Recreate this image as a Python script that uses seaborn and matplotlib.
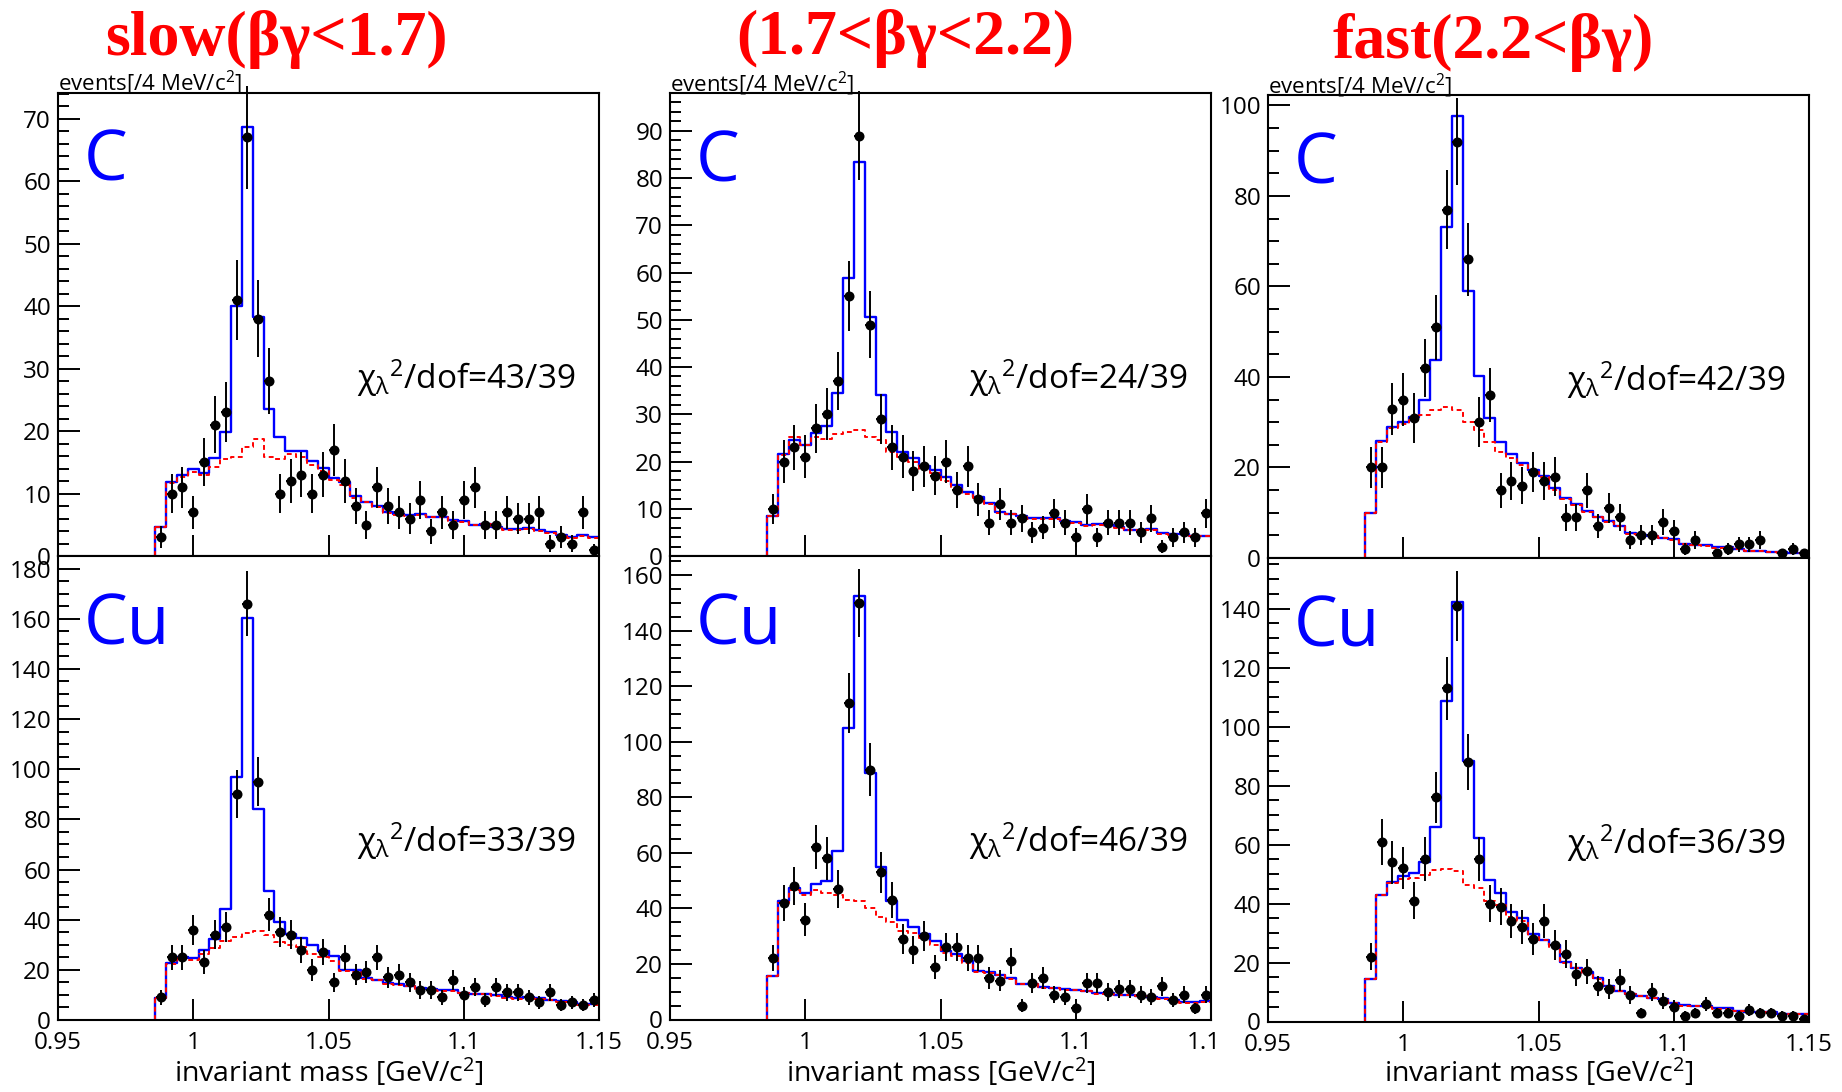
import numpy as np
import matplotlib
matplotlib.use("Agg")
import matplotlib.pyplot as plt
from matplotlib.patches import Rectangle
from matplotlib.ticker import MultipleLocator, FixedLocator
import seaborn as sns

# ---------------------------------------------------------------- binning
bin_start = 0.986          # GeV/c^2, lower edge of first bin
bin_width = 0.004          # 4 MeV/c^2 bins
n_bins = 41
edges = bin_start + bin_width * np.arange(n_bins + 1)
centers = edges[:-1] + bin_width / 2

x_ticks = [0.95, 1.0, 1.05, 1.1, 1.15]
x_tick_labels = ["0.95", "1", "1.05", "1.1", "1.15"]

col_titles = ["slow(βγ<1.7)", "(1.7<βγ<2.2)", "fast(2.2<βγ)"]
targets = ["C", "Cu"]

# ---------------------------------------------------------------- slow, C
c_slow_data = [3, 10, 11, 7, 15, 21, 23, 41, 67, 38, 28, 10, 12, 13, 10, 13, 17, 12, 8, 5, 11,
               8, 7, 6, 9, 4, 7, 5, 9, 11, 5, 5, 7, 6, 6, 7, 2, 3, 2, 7, 1]
c_slow_fit = [4.7, 11.9, 12.9, 14.0, 13.3, 15.7, 19.9, 40.0, 68.6, 38.3, 23.5, 19.0, 16.8, 16.8,
              15.2, 14.1, 12.5, 11.9, 9.6, 8.7, 8.0, 7.0, 6.7, 6.5, 6.7, 6.3, 6.3, 5.7, 5.6, 5.0,
              5.2, 4.7, 4.3, 4.3, 4.5, 4.1, 3.8, 3.3, 3.0, 3.3, 3.0]
c_slow_bkg = [4.7, 11.7, 12.7, 13.4, 12.9, 14.2, 15.5, 15.8, 17.5, 18.7, 15.9, 15.6, 16.4, 15.8,
              14.5, 13.6, 12.2, 11.4, 9.3, 8.6, 7.9, 6.9, 6.6, 6.4, 6.6, 6.2, 6.2, 5.6, 5.5, 4.9,
              5.1, 4.6, 4.2, 4.2, 4.4, 4.0, 3.7, 3.2, 2.9, 3.2, 2.9]

# ---------------------------------------------------------------- slow, Cu
cu_slow_data = [9, 25, 25, 36, 23, 34, 37, 90, 166, 95, 42, 35, 34, 28, 20, 27, 15, 25, 18, 19,
                25, 17, 18, 15, 12, 12, 9, 16, 10, 13, 8, 13, 11, 11, 9, 7, 11, 6, 7, 6, 8]
cu_slow_fit = [8.8, 22.9, 25.3, 24.6, 28.1, 32.4, 44.2, 96.9, 160.1, 84.3, 51.6, 39.0, 34.4, 32.7,
               29.9, 27.4, 25.4, 20.1, 19.8, 16.6, 16.1, 14.7, 14.2, 13.7, 12.8, 12.3, 11.9, 11.9,
               10.9, 10.5, 10.5, 10.0, 9.1, 8.8, 9.1, 8.6, 8.1, 7.4, 7.2, 6.3, 6.3]
cu_slow_bkg = [8.8, 22.5, 24.8, 24.0, 26.5, 28.6, 31.5, 33.0, 34.5, 35.5, 34.0, 31.0, 30.0, 29.0,
               26.5, 25.3, 23.5, 19.5, 19.3, 16.3, 15.8, 14.4, 13.9, 13.4, 12.5, 12.0, 11.6, 11.6,
               10.6, 10.2, 10.2, 9.7, 8.8, 8.5, 8.8, 8.3, 7.8, 7.1, 6.9, 6.0, 6.0]

# ---------------------------------------------------------------- mid, C
c_mid_data = [10, 20, 23, 21, 27, 30, 37, 55, 89, 49, 29, 23, 21, 18, 19, 17, 20, 14, 19, 12, 7,
              11, 7, 8, 5, 6, 9, 7, 4, 10, 4, 7, 7, 7, 5, 8, 2, 4, 5, 4, 9]
c_mid_fit = [8.5, 21.5, 24.5, 23.5, 26.0, 27.5, 34.5, 58.8, 83.4, 50.6, 34.0, 26.3, 22.0, 20.7,
             19.1, 18.2, 16.7, 15.0, 13.5, 12.5, 11.2, 9.3, 8.9, 8.4, 8.0, 8.0, 8.0, 7.4, 7.1, 6.5,
             6.7, 6.5, 6.1, 5.5, 5.5, 5.7, 4.8, 4.6, 4.6, 4.3, 4.3]
c_mid_bkg = [8.5, 21.3, 25.2, 23.4, 25.2, 24.8, 25.8, 26.3, 26.6, 25.2, 24.5, 22.0, 21.0, 19.8,
             18.5, 17.5, 15.8, 14.7, 13.2, 12.3, 11.0, 9.2, 8.8, 8.3, 7.9, 7.9, 7.9, 7.3, 7.0, 6.4,
             6.6, 6.4, 6.0, 5.4, 5.4, 5.6, 4.7, 4.5, 4.5, 4.2, 4.2]

# ---------------------------------------------------------------- mid, Cu
cu_mid_data = [22, 42, 48, 36, 62, 58, 47, 114, 150, 90, 53, 43, 29, 25, 30, 19, 26, 26, 22, 22,
               15, 14, 21, 5, 13, 15, 9, 8, 4, 13, 13, 10, 11, 11, 9, 8, 12, 7, 9, 4, 9]
cu_mid_fit = [15.8, 42.5, 47.2, 45.6, 48.7, 49.7, 60.5, 104.8, 152.4, 88.7, 54.8, 42.5, 35.8, 33.2,
              30.7, 28.4, 24.7, 23.7, 20.9, 17.4, 17.0, 16.1, 14.8, 12.9, 12.9, 11.7, 11.4, 11.0,
              10.8, 10.4, 9.5, 9.5, 8.9, 8.9, 8.5, 8.1, 7.6, 7.2, 6.3, 6.3, 6.6]
cu_mid_bkg = [15.8, 42.0, 46.5, 45.0, 46.5, 45.5, 45.0, 43.0, 42.5, 40.0, 37.0, 35.0, 32.0, 31.0,
              29.5, 27.0, 24.0, 23.0, 20.5, 17.2, 16.8, 15.9, 14.6, 12.7, 12.7, 11.5, 11.2, 10.8,
              10.6, 10.2, 9.3, 9.3, 8.7, 8.7, 8.3, 7.9, 7.4, 7.0, 6.1, 6.1, 6.4]

# ---------------------------------------------------------------- fast, C
c_fast_data = [20, 20, 33, 35, 31, 42, 51, 77, 92, 66, 30, 36, 15, 17, 16, 19, 17, 18, 9, 9, 15,
               7, 11, 9, 4, 5, 5, 8, 6, 2, 4, 0, 1, 2, 3, 3, 4, 0, 1, 2, 1]
c_fast_fit = [9.9, 25.9, 29.0, 30.1, 31.2, 35.0, 43.7, 73.2, 97.7, 58.9, 40.3, 30.9, 25.6, 22.9,
              21.1, 19.5, 18.2, 15.4, 13.2, 11.9, 10.4, 9.1, 8.1, 7.1, 5.5, 5.1, 4.9, 4.5, 4.1, 3.2,
              2.9, 2.8, 2.4, 2.4, 2.0, 1.6, 1.6, 1.4, 1.3, 1.2, 1.2]
c_fast_bkg = [9.9, 25.7, 28.8, 29.7, 30.5, 31.7, 32.8, 33.3, 32.7, 30.0, 28.3, 25.7, 23.5, 22.0,
              20.5, 19.0, 17.8, 15.0, 13.0, 11.7, 10.2, 9.0, 8.0, 7.0, 5.4, 5.0, 4.8, 4.4, 4.0, 3.1,
              2.8, 2.7, 2.3, 2.3, 1.9, 1.5, 1.5, 1.3, 1.2, 1.1, 1.1]

# ---------------------------------------------------------------- fast, Cu
cu_fast_data = [22, 61, 54, 52, 41, 55, 76, 113, 141, 88, 55, 40, 39, 34, 32, 28, 34, 26, 23, 16,
                17, 12, 11, 14, 9, 3, 10, 7, 5, 2, 3, 6, 3, 3, 2, 4, 3, 3, 2, 2, 1]
cu_fast_fit = [14.3, 43.0, 47.3, 49.3, 50.5, 54.1, 66.0, 108.6, 142.4, 88.3, 62.1, 48.1, 43.6, 37.0,
               35.0, 29.8, 27.8, 25.8, 20.3, 18.3, 16.7, 14.7, 11.9, 10.5, 9.3, 8.7, 8.1, 7.5, 6.3,
               5.5, 5.4, 5.1, 4.5, 4.5, 3.6, 3.3, 3.3, 3.1, 2.7, 2.6, 2.7]
cu_fast_bkg = [14.3, 43.0, 47.0, 48.2, 48.8, 49.8, 51.5, 51.8, 51.0, 46.3, 45.3, 41.0, 39.5, 35.5,
               34.0, 28.8, 27.5, 25.3, 20.0, 18.0, 16.5, 14.5, 11.8, 10.4, 9.2, 8.6, 8.0, 7.4, 6.2,
               5.4, 5.3, 5.0, 4.4, 4.4, 3.5, 3.2, 3.2, 3.0, 2.6, 2.5, 2.6]

chi2_labels = [["43/39", "33/39"], ["24/39", "46/39"], ["42/39", "36/39"]]

panel_data = [[(c_slow_data, c_slow_fit, c_slow_bkg), (cu_slow_data, cu_slow_fit, cu_slow_bkg)],
              [(c_mid_data, c_mid_fit, c_mid_bkg), (cu_mid_data, cu_mid_fit, cu_mid_bkg)],
              [(c_fast_data, c_fast_fit, c_fast_bkg), (cu_fast_data, cu_fast_fit, cu_fast_bkg)]]

# y-axis ranges and tick spacing (max, major, minor)
y_axes = [[(74.1, 10, 2), (185.0, 20, 5)],
          [(97.9, 10, 2), (166.9, 20, 5)],
          [(102.2, 20, 5), (157.2, 20, 5)]]

# ---------------------------------------------------------------- style
sns.set_theme(style="ticks")
plt.rcParams["font.family"] = ["Open Sans", "DejaVu Sans"]
plt.rcParams["mathtext.fontset"] = "custom"
plt.rcParams["mathtext.rm"] = "Open Sans"
plt.rcParams["mathtext.it"] = "Open Sans:italic"
plt.rcParams["mathtext.bf"] = "Open Sans:bold"

W, H = 1842, 1092
fig = plt.figure(figsize=(W / 100, H / 100), dpi=100)
fig.patch.set_facecolor("white")

AX_W = 541
# (left, top of upper pad, split, bottom of lower pad) in pixels
col_geom = [(58, 93, 556, 1020), (670, 93.5, 556, 1019.5), (1268, 95.5, 558, 1021.5)]
title_pos = [(276, 55), (905, 54), (1493, 58)]

BLUE = "#0000ff"
RED = "#ff0000"
bin_list = list(edges)
TICK_FS = 17.5


def add_px_axes(x0, y_top, y_bot):
    return fig.add_axes([x0 / W, 1 - y_bot / H, AX_W / W, (y_bot - y_top) / H])


def draw_panel(ax, data, fit, bkg, ylim, chi2, target, bottom_row):
    ymax, major, minor = ylim
    fit = np.asarray(fit, float)
    bkg = np.asarray(bkg, float)
    d = np.asarray(data, float)

    # total fit (solid blue) and background (dashed red) as step histograms
    sns.histplot(x=centers, weights=fit, bins=bin_list, element="step", fill=False,
                 color=BLUE, linewidth=1.7, ax=ax, zorder=2)
    ax.plot([edges[0], edges[0]], [0, fit[0]], color=BLUE, lw=1.7, zorder=2)
    sns.histplot(x=centers, weights=bkg, bins=bin_list, element="step", fill=False,
                 color=RED, linewidth=1.4, linestyle=(0, (2.5, 1.8)), ax=ax, zorder=3)
    ax.plot([edges[0], edges[0]], [0, bkg[0]], color=RED, lw=1.4,
            linestyle=(0, (2.5, 1.8)), zorder=3)

    # data points with statistical errors
    m = d > 0
    eb = ax.errorbar(centers[m], d[m], yerr=np.sqrt(d[m]), xerr=0.0018, fmt="none",
                     ecolor="black", elinewidth=1.4, capsize=0, zorder=4)
    for art in eb.lines[2]:
        art.set_clip_on(False)
    sns.scatterplot(x=centers[m], y=d[m], color="black", marker="o", s=52,
                    linewidth=0, ax=ax, zorder=5)

    ax.set_xlim(0.95, 1.15)
    ax.set_ylim(0, ymax)
    ax.set_xlabel("")
    ax.set_ylabel("")
    ax.xaxis.set_major_locator(FixedLocator(x_ticks))
    ax.set_xticklabels(x_tick_labels)
    ax.yaxis.set_major_locator(MultipleLocator(major))
    ax.yaxis.set_minor_locator(MultipleLocator(minor))
    ax.tick_params(axis="y", which="major", direction="in", length=16, width=1.4,
                   labelsize=TICK_FS, pad=5, right=False, colors="black")
    ax.tick_params(axis="y", which="minor", direction="in", length=8, width=1.4,
                   right=False, color="black")
    ax.tick_params(axis="x", which="major", direction="in", length=15, width=1.4,
                   labelsize=TICK_FS, pad=8, top=False, labelbottom=bottom_row, colors="black")
    ax.tick_params(axis="x", which="minor", bottom=False, top=False)
    for sp in ax.spines.values():
        sp.set_visible(True)
        sp.set_color("black")
        sp.set_linewidth(1.5)
        sp.set_zorder(6)
    ax.set_facecolor("white")

    ax.text(0.048, 0.81, target, transform=ax.transAxes, fontsize=50, color=BLUE,
            ha="left", va="baseline")
    ax.text(0.552, 0.362, r"$\mathrm{\chi_{\lambda}{}^{2}}$/dof=" + chi2,
            transform=ax.transAxes, fontsize=24, color="black", ha="left", va="baseline")


for ci in range(3):
    x0, y_top, y_mid, y_bot = col_geom[ci]
    ax_top = add_px_axes(x0, y_top, y_mid)
    ax_bot = add_px_axes(x0, y_mid, y_bot)
    for ri, ax in enumerate([ax_top, ax_bot]):
        data, fit, bkg = panel_data[ci][ri]
        draw_panel(ax, data, fit, bkg, y_axes[ci][ri], chi2_labels[ci][ri],
                   targets[ri], bottom_row=(ri == 1))

    ax_top.annotate("events[/4 MeV/c$^{2}$]", xy=(0, 1), xycoords="axes fraction",
                    xytext=(0, 1.5), textcoords="offset points", ha="left",
                    va="baseline", fontsize=16, color="black")

    fig.text((x0 + AX_W / 2) / W, 1 - 1082 / H, "invariant mass [GeV/c$^{2}$]",
             ha="center", va="baseline", fontsize=20.5, color="black")

    tx, ty = title_pos[ci]
    fig.text(tx / W, 1 - ty / H, col_titles[ci], ha="center", va="baseline",
             fontsize=46, fontweight="bold", color=RED, family="Liberation Serif")

# the middle column's last x label runs under the neighbouring pad
fig.add_artist(Rectangle((1218 / W, 1 - 1060 / H), 26 / W, 36 / H, transform=fig.transFigure,
                         facecolor="white", edgecolor="none", zorder=20))

fig.savefig("out.png", dpi=100, facecolor="white")
